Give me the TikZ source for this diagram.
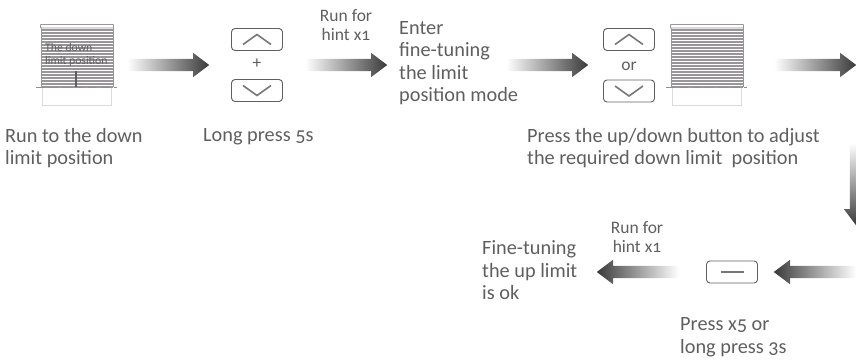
\documentclass[tikz,border=0pt]{standalone}
\usepackage{fontspec}
\setmainfont[Numbers=OldStyle]{Carlito}
\usetikzlibrary{shapes.arrows,positioning}
\definecolor{txtgray}{HTML}{5F5F5F}
\definecolor{arrowdark}{HTML}{3A3A3A}
\definecolor{slatgray}{HTML}{9A9598}
\definecolor{boxgray}{HTML}{DADADA}
\tikzset{
	fatarrow/.style={single arrow,draw=none,inner sep=6pt,minimum width=24pt,minimum height=82pt,
		single arrow head extend=6pt,single arrow tip angle=74,anchor=tail},
	rightarrow/.style={fatarrow,left color=white,right color=arrowdark},
	leftarrow/.style={fatarrow,shape border rotate=180,left color=arrowdark,right color=white},
	downarrow/.style={fatarrow,shape border rotate=270,top color=white,bottom color=arrowdark},
	button/.style={draw=txtgray,line width=.9pt,rounded corners=3.5pt,minimum width=51pt,minimum height=22pt,inner sep=0pt},
	chevron/.style={draw=txtgray!85,line width=1.6pt},
	label/.style={anchor=west,align=left,inner sep=0pt,text=txtgray,font=\fontsize{20.3}{22.5}\selectfont},
	hint/.style={align=center,inner sep=0pt,text=txtgray,font=\fontsize{17.5}{19}\selectfont},
}
\begin{document}
\begin{tikzpicture}[x=1pt,y=1pt,node distance=1cm]
	\useasboundingbox (0,0) rectangle (856,-359);
	% Now the two blinds
	\foreach \bx in {41,671}{
		\foreach \sy in {30,33,...,87}
			\draw[slatgray,line width=1.5pt] (\bx,-\sy) -- (\bx+72,-\sy);
		\draw[slatgray,line width=.8pt] (\bx,-28) -- (\bx,-87) (\bx+72,-28) -- (\bx+72,-87);
		\draw[slatgray,line width=.8pt,fill=white,rounded corners=.5pt] (\bx-.5,-28) rectangle (\bx+72.5,-24.5);
		\draw[boxgray,line width=.9pt] (\bx+1.5,-88) -- (\bx+1.5,-105) -- (\bx+70,-105) -- (\bx+70,-88);
		\draw[txtgray!70,line width=1pt,dash pattern=on 9pt off 4pt] (\bx-5,-87) -- (\bx+76,-87);
	}
	\node[inner sep=0pt,anchor=west,align=left,text=txtgray,font=\fontsize{11.7}{13}\selectfont] (downlimit) at (45,-54.5) {The down\\limit position};
	\draw[txtgray,line width=1.2pt,dash pattern=on 1.5pt off .5pt] (76,-71) -- (76,-87);
	% Now the buttons
	\node[button] (up1) at (257,-39.5) {};
	\node[button] (down1) at (257,-90.5) {};
	\node[hint] (plus) at (257,-64) {+};
	\node[button] (up2) at (629,-39.5) {};
	\node[button] (down2) at (629,-91) {};
	\node[hint] (or) at (629,-66) {or};
	\node[button] (minus) at (732,-272) {};
	\foreach \bn in {up1,up2}
		\draw[chevron] ([shift={(-14,-5)}]\bn.center) -- ([shift={(0,5)}]\bn.center) -- ([shift={(14,-5)}]\bn.center);
	\foreach \bn in {down1,down2}
		\draw[chevron] ([shift={(-14,5)}]\bn.center) -- ([shift={(0,-5)}]\bn.center) -- ([shift={(14,5)}]\bn.center);
	\draw[chevron,line width=1.3pt] ([xshift=-11.5pt]minus.center) -- ([xshift=11.5pt]minus.center);
	% Now the arrows
	\node[rightarrow] (arrow1) at (127,-65) {};
	\node[rightarrow] (arrow2) at (305,-65) {};
	\node[rightarrow] (arrow3) at (506,-65) {};
	\node[rightarrow] (arrow4) at (774,-65) {};
	\node[downarrow] (arrow5) at (856,-143) {};
	\node[leftarrow] (arrow6) at (856,-272) {};
	\node[leftarrow] (arrow7) at (679,-272) {};
	% Now the texts
	\node[label] (step1) at (5,-148) {Run to the down\\limit position};
	\node[label] (step2) at (203,-137) {Long press 5s};
	\node[hint] (hint1) at (346,-25.5) {Run for\\hint x1};
	\node[label] (step3) at (399,-63) {Enter\\fine-tuning\\the limit\\position mode};
	\node[label] (step4) at (527,-148) {Press the up/down button to adjust\\the required down limit\ \ position};
	\node[hint] (hint2) at (637,-237.5) {Run for\\hint x1};
	\node[label] (step5) at (482,-270.5) {Fine-tuning\\the up limit\\is ok};
	\node[label] (step6) at (680,-337) {Press x5 or\\long press 3s};
\end{tikzpicture}
\end{document}
